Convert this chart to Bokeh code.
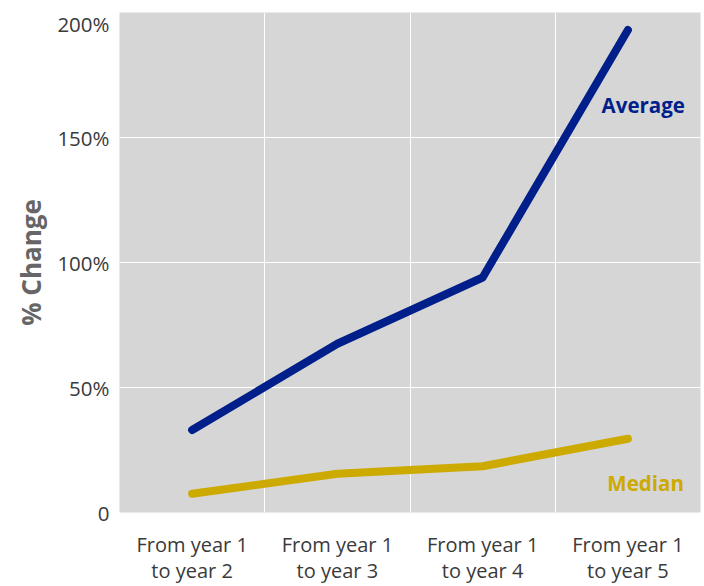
from bokeh.plotting import figure
from bokeh.models import FactorRange, Range1d, FixedTicker, ColumnDataSource
from bokeh.core.properties import value
from bokeh.embed import file_html
from bokeh.resources import INLINE

categories = ["From year 1\nto year 2", "From year 1\nto year 3", "From year 1\nto year 4", "From year 1\nto year 5"]
average = [33, 67.5, 94, 193]
median = [7.5, 15.5, 18.5, 29.5]
y_ticks = [0, 50, 100, 150, 200]
y_tick_labels = ["0", "50%", "100%", "150%", "200%"]

FONT = "Open Sans"
NAVY = "#001f8a"
GOLD = "#ccaa00"
TICK_COLOR = "#3a3a3a"

p = figure(width=704, height=586, x_range=FactorRange(*categories, range_padding=0),
           y_range=Range1d(0, 200), output_backend="svg", toolbar_location=None,
           min_border_left=119, min_border_right=4, min_border_top=12, min_border_bottom=73)
p.outline_line_color = None
p.background_fill_color = "#d6d6d6"
p.border_fill_color = "white"

p.line(categories, average, line_color=NAVY, line_width=8, line_cap="round", line_join="round")
p.line(categories, median, line_color=GOLD, line_width=8, line_cap="round", line_join="round")

src = ColumnDataSource(dict(x=[categories[-1]], ya=[average[-1]], ym=[median[-1]]))
p.text(x="x", y="ya", text=value("Average"), source=src, x_offset=57, y_offset=75,
       text_align="right", text_baseline="middle", text_font=value(FONT),
       text_font_style="bold", text_font_size="20.5px", text_color=NAVY)
p.text(x="x", y="ym", text=value("Median"), source=src, x_offset=56, y_offset=44,
       text_align="right", text_baseline="middle", text_font=value(FONT),
       text_font_style="bold", text_font_size="20.5px", text_color=GOLD)

# grids
p.xgrid.ticker = FixedTicker(ticks=[1, 2, 3])
p.xgrid.grid_line_color = "white"
p.xgrid.grid_line_width = 1
p.ygrid.ticker = FixedTicker(ticks=y_ticks)
p.ygrid.grid_line_color = "white"
p.ygrid.grid_line_width = 1

# axes
p.yaxis.ticker = FixedTicker(ticks=y_ticks)
overrides = {t: l for t, l in zip(y_ticks, y_tick_labels)}
overrides[200] = "\n" + y_tick_labels[-1]   # top label sits just below the frame edge
p.yaxis.major_label_overrides = overrides
p.yaxis.axis_line_color = None
p.yaxis.major_tick_line_color = None
p.yaxis.minor_tick_line_color = None
p.yaxis.major_label_text_font = FONT
p.yaxis.major_label_text_font_size = "20.5px"
p.yaxis.major_label_text_line_height = 0.35
p.yaxis.major_label_text_color = TICK_COLOR
p.yaxis.major_label_standoff = 4
p.yaxis.axis_label = "% Change"
p.yaxis.axis_label_text_font = FONT
p.yaxis.axis_label_text_font_size = "26px"
p.yaxis.axis_label_text_font_style = "bold"
p.yaxis.axis_label_text_color = "#666666"
p.yaxis.axis_label_standoff = 5

p.xaxis.axis_line_color = None
p.xaxis.major_tick_line_color = None
p.xaxis.minor_tick_line_color = None
p.xaxis.major_label_text_font = FONT
p.xaxis.major_label_text_font_size = "20px"
p.xaxis.major_label_text_line_height = 0.97
p.xaxis.major_label_text_color = TICK_COLOR
p.xaxis.major_label_standoff = 12

open("out.html", "w").write(file_html(p, INLINE))
